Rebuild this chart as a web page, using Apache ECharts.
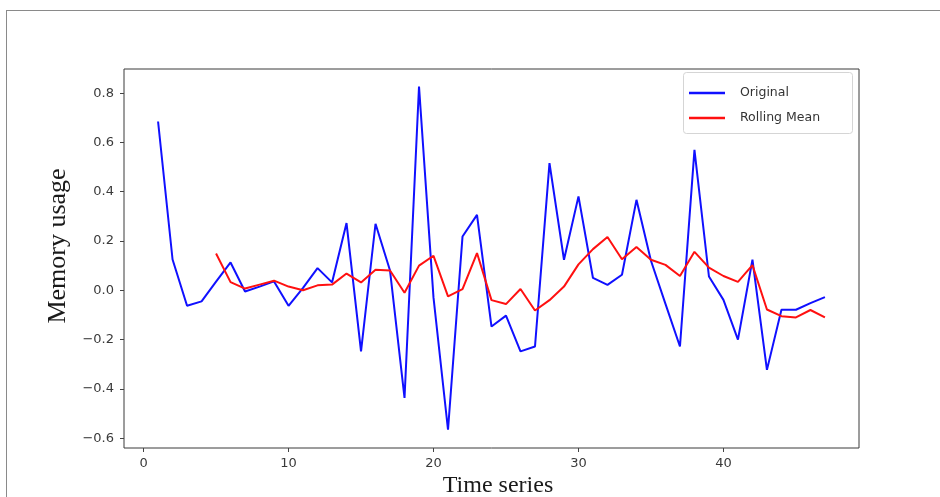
<!DOCTYPE html>
<html>
<head>
<meta charset="utf-8">
<script src="https://cdn.jsdelivr.net/npm/echarts@6/dist/echarts.min.js"></script>
<style>html,body{margin:0;padding:0;background:#fff;}#c{width:940px;height:497px;}</style>
</head>
<body>
<div id="c"></div>
<script>
const timeIdx = [1,2,3,4,5,6,7,8,9,10,11,12,13,14,15,16,17,18,19,20,21,22,23,24,25,26,27,28,29,30,31,32,33,34,35,36,37,38,39,40,41,42,43,44,45,46,47];
const original = [0.685,0.125,-0.063,-0.045,0.035,0.113,-0.005,0.015,0.036,-0.063,0.01,0.09,0.032,0.273,-0.248,0.27,0.08,-0.437,0.827,-0.03,-0.566,0.218,0.306,-0.147,-0.103,-0.248,-0.228,0.516,0.124,0.381,0.05,0.022,0.063,0.367,0.12,-0.055,-0.228,0.57,0.056,-0.039,-0.2,0.124,-0.323,-0.079,-0.079,-0.052,-0.028];
const rollIdx = [5,6,7,8,9,10,11,12,13,14,15,16,17,18,19,20,21,22,23,24,25,26,27,28,29,30,31,32,33,34,35,36,37,38,39,40,41,42,43,44,45,46,47];
const rollingMean = [0.149,0.033,0.007,0.023,0.039,0.015,0.0,0.02,0.023,0.068,0.032,0.083,0.08,-0.01,0.1,0.14,-0.025,0.005,0.151,-0.04,-0.056,0.005,-0.082,-0.04,0.015,0.105,0.167,0.216,0.126,0.176,0.124,0.103,0.058,0.156,0.092,0.058,0.034,0.102,-0.078,-0.105,-0.11,-0.08,-0.11];
const xTicks = [0,10,20,30,40];
const yTicks = [-0.6,-0.4,-0.2,0.0,0.2,0.4,0.6,0.8];
const seriesNames = ['Original','Rolling Mean'];
const xTitle = 'Time series';
const yTitle = 'Memory usage';

const chart = echarts.init(document.getElementById('c'), null, {renderer:'canvas'});
const tickFont = {fontSize:13, color:'#3a3a3a', fontFamily:'DejaVu Sans'};
chart.setOption({
  animation:false,
  backgroundColor:'#fff',
  grid:{left:124, top:69, width:735, height:379, show:true, borderColor:'#3a3a3a', borderWidth:1, backgroundColor:'#fff'},
  xAxis:{type:'value', min:-1.35, max:49.35,
    splitLine:{show:false},
    axisLine:{show:false, onZero:false},
    axisTick:{show:true, length:4, customValues:xTicks, lineStyle:{color:'#444'}},
    axisLabel:Object.assign({customValues:xTicks, margin:9, formatter:v=>String(v)}, tickFont)},
  yAxis:{type:'value', min:-0.64, max:0.898,
    splitLine:{show:false},
    axisLine:{show:false, onZero:false},
    axisTick:{show:true, length:4, customValues:yTicks, lineStyle:{color:'#444'}},
    axisLabel:Object.assign({customValues:yTicks, margin:10, formatter:v=>Number(v).toFixed(1).replace('-', '\u2212')}, tickFont)},
  legend:{data:seriesNames, orient:'vertical', left:689, top:86, padding:0, itemGap:11, z:20,
    icon:'rect', itemWidth:36, itemHeight:2.5,
    textStyle:{fontSize:12.5, color:'#333', fontFamily:'DejaVu Sans', lineHeight:14, padding:[0,0,0,10]}},
  graphic:[
    {type:'line', shape:{x1:6, y1:10.5, x2:940, y2:10.5}, style:{stroke:'#8a8a8a', lineWidth:1}, silent:true},
    {type:'line', shape:{x1:6.5, y1:10, x2:6.5, y2:497}, style:{stroke:'#8a8a8a', lineWidth:1}, silent:true},
    {type:'rect', shape:{x:683.5, y:72.5, width:169, height:61, r:3}, style:{fill:'rgba(255,255,255,0.8)', stroke:'#d5d5d5', lineWidth:1}, z:15, silent:true},
    {type:'text', x:498, y:486, style:{text:xTitle, font:'24px "Liberation Serif"', fill:'#1a1a1a', align:'center', verticalAlign:'middle'}},
    {type:'text', x:58, y:246, rotation:Math.PI/2, style:{text:yTitle, font:'26px "Liberation Serif"', fill:'#1a1a1a', align:'center', verticalAlign:'middle'}}
  ],
  series:[
    {name:seriesNames[0], type:'line', showSymbol:false, symbol:'none', color:'#1010ff',
     lineStyle:{width:2, color:'#1010ff'}, data:timeIdx.map((x,i)=>[x, original[i]]), z:2},
    {name:seriesNames[1], type:'line', showSymbol:false, symbol:'none', color:'#ff1010',
     lineStyle:{width:2, color:'#ff1010'}, data:rollIdx.map((x,i)=>[x, rollingMean[i]]), z:3}
  ]
});
</script>
</body>
</html>
